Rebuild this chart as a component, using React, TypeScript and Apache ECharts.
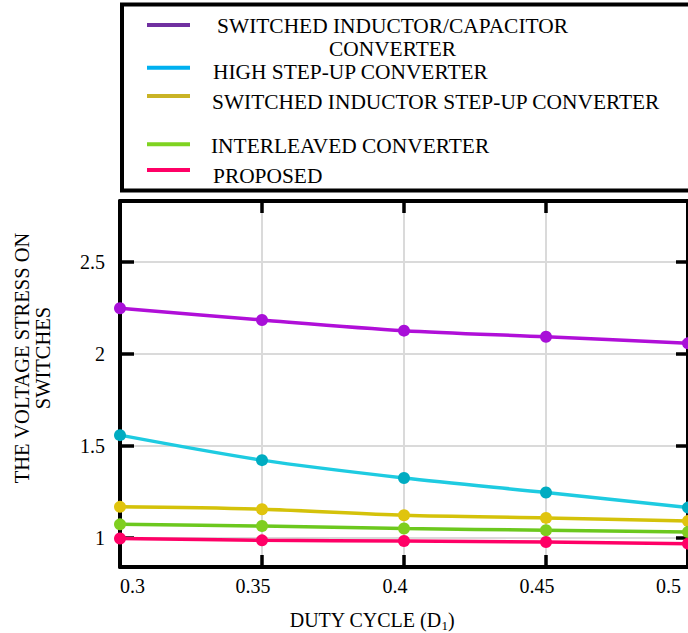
import React, { useEffect, useRef } from "react";
import * as echarts from "echarts";

const dutyCycle = [0.3, 0.35, 0.4, 0.45, 0.5];
const seriesNames = [
  "SWITCHED INDUCTOR/CAPACITOR CONVERTER",
  "HIGH STEP-UP CONVERTER",
  "SWITCHED INDUCTOR STEP-UP CONVERTER",
  "INTERLEAVED CONVERTER",
  "PROPOSED",
];
const switchedInductorCapacitor = [2.247, 2.183, 2.125, 2.092, 2.056];
const highStepUp = [1.557, 1.421, 1.324, 1.245, 1.163];
const switchedInductorStepUp = [1.167, 1.154, 1.121, 1.107, 1.09];
const interleaved = [1.072, 1.063, 1.049, 1.04, 1.03];
const proposed = [0.995, 0.985, 0.981, 0.976, 0.967];

const lineColors = ["#B00FD8", "#1ECBE1", "#D4C20A", "#6CC81E", "#FF0066"];
const markerColors = ["#A80FD8", "#00ACC1", "#E0C40E", "#7FCE1F", "#FF0066"];
const legendColors = ["#7030A0", "#00B0F0", "#C9B325", "#7FD321", "#FF0066"];

const FONT = "Liberation Serif";

export default function App() {
  const ref = useRef<HTMLDivElement>(null);
  useEffect(() => {
    if (!ref.current) return;
    const chart = echarts.init(ref.current, null, { renderer: "svg" });
    const allData = [
      switchedInductorCapacitor,
      highStepUp,
      switchedInductorStepUp,
      interleaved,
      proposed,
    ];
    const series = allData.map((vals, i) => ({
      name: seriesNames[i],
      type: "line",
      smooth: 0.3,
      symbol: "circle",
      symbolSize: 12,
      lineStyle: { color: lineColors[i], width: 3.5 },
      itemStyle: { color: markerColors[i] },
      data: vals.map((v, j) => [dutyCycle[j], v]),
      z: 3,
    }));

    // legend layout: [top, iconBoxHeight, textPaddingLeft]
    const legendLayout = [
      [14.75, 28.5, 0],
      [60.5, 11.6, 18],
      [91, 16, 17],
      [134.5, 6.4, 16],
      [164.5, 15, 18],
    ];
    const legends = seriesNames.map((n, i) => {
      const h = legendLayout[i][1];
      return {
        data: [n],
        left: 147,
        top: legendLayout[i][0],
        padding: 0,
        icon: "path://M0,0H43V4H0Z" + (h > 4 ? "M0," + h + "H43" : ""),
        symbolKeepAspect: false,
        itemWidth: 43,
        itemHeight: h,
        selectedMode: false,
        itemStyle: { color: legendColors[i], borderWidth: 0 },
        formatter: (name: string) =>
          name === seriesNames[0]
            ? "{c|SWITCHED INDUCTOR/CAPACITOR}\n{c|CONVERTER}"
            : name,
        textStyle: {
          fontFamily: FONT,
          fontSize: 21.4,
          lineHeight: 22,
          color: "#000",
          padding: [0, 0, 0, legendLayout[i][2]],
          rich: {
            c: {
              fontFamily: FONT,
              fontSize: 21.4,
              lineHeight: 22.5,
              width: 395,
              align: "center",
              color: "#000",
            },
          },
        },
      };
    });

    const yFormatter = (v: number) =>
      Math.abs(v * 2 - Math.round(v * 2)) < 1e-6 ? String(v) : "";

    chart.setOption({
      animation: false,
      backgroundColor: "#fff",
      grid: { left: 120, top: 201, width: 569, height: 366 },
      legend: legends,
      xAxis: [
        {
          type: "value",
          position: "bottom",
          min: 0.3,
          max: 0.5,
          interval: 0.05,
          axisLine: { show: true, lineStyle: { color: "#000", width: 4 } },
          axisTick: {
            show: true,
            inside: true,
            length: 12,
            lineStyle: { color: "#000", width: 3.5 },
          },
          splitLine: { show: true, lineStyle: { color: "#DADADA", width: 2 } },
          axisLabel: {
            margin: 9,
            color: "#000",
            fontFamily: FONT,
            fontSize: 20,
            alignMinLabel: "left",
            alignMaxLabel: "right",
            formatter: (v: number) => {
              const s = String(Math.round(v * 100) / 100);
              return Math.abs(v - 0.5) < 1e-9 ? "{m|" + s + "}" : "{n|" + s + "}";
            },
            rich: {
              n: { fontFamily: FONT, fontSize: 20, color: "#000", padding: [0, 18, 0, 0] },
              m: { fontFamily: FONT, fontSize: 20, color: "#000", padding: [0, 7, 0, 0] },
            },
          },
        },
        {
          type: "value",
          position: "top",
          min: 0.3,
          max: 0.5,
          interval: 0.05,
          axisLine: { show: true, lineStyle: { color: "#000", width: 4 } },
          axisTick: {
            show: true,
            inside: true,
            length: 12,
            lineStyle: { color: "#000", width: 3.5 },
          },
          splitLine: { show: false },
          axisLabel: { show: false },
        },
      ],
      yAxis: [
        {
          type: "value",
          position: "left",
          min: 0.84,
          max: 2.83,
          splitNumber: 4,
          axisLine: { show: true, lineStyle: { color: "#000", width: 4 } },
          axisTick: {
            show: true,
            inside: true,
            length: 14,
            lineStyle: { color: "#000", width: 3.5 },
          },
          splitLine: { show: true, lineStyle: { color: "#DADADA", width: 2 } },
          axisLabel: {
            margin: 15,
            color: "#000",
            fontFamily: FONT,
            fontSize: 20,
            formatter: yFormatter,
          },
        },
        {
          type: "value",
          position: "right",
          min: 0.84,
          max: 2.83,
          splitNumber: 4,
          axisLine: { show: true, lineStyle: { color: "#000", width: 4 } },
          axisTick: {
            show: true,
            inside: true,
            length: 12,
            lineStyle: { color: "#000", width: 3.5 },
          },
          splitLine: { show: false },
          axisLabel: { show: false },
        },
      ],
      graphic: [
        {
          type: "rect",
          shape: { x: 122, y: 4.5, width: 640, height: 186 },
          style: { fill: "none", stroke: "#000", lineWidth: 4 },
          silent: true,
        },
        {
          type: "text",
          x: 32,
          y: 358,
          rotation: Math.PI / 2,
          style: {
            text: "THE VOLTAGE STRESS ON\nSWITCHES",
            fontFamily: FONT,
            fontSize: 20.5,
            lineHeight: 21,
            fill: "#000",
            textAlign: "center",
            textVerticalAlign: "middle",
            align: "center",
            verticalAlign: "middle",
          },
        },
        {
          type: "text",
          x: 372,
          y: 620,
          style: {
            text: "{a|DUTY CYCLE (D}{s|1}{a|)}",
            rich: {
              a: { fontFamily: FONT, fontSize: 20, lineHeight: 24, verticalAlign: "middle", fill: "#000" },
              s: { fontFamily: FONT, fontSize: 13, lineHeight: 13, verticalAlign: "bottom", fill: "#000" },
            },
            fill: "#000",
            textAlign: "center",
            textVerticalAlign: "middle",
            align: "center",
            verticalAlign: "middle",
          },
        },
      ],
      series,
    });
    return () => chart.dispose();
  }, []);
  return (
    <div
      ref={ref}
      style={{ position: "fixed", left: 0, top: 0, width: 688, height: 633, background: "#fff" }}
    />
  );
}
